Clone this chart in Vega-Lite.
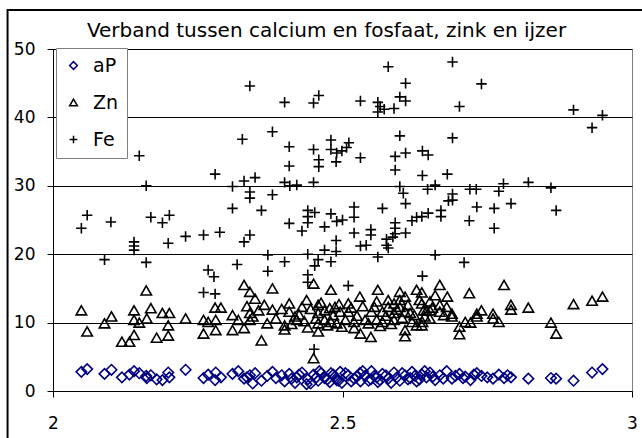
{
  "$schema": "https://vega.github.io/schema/vega-lite/v6.json",
  "width": 579,
  "height": 342,
  "autosize": {"type": "none"},
  "padding": {"left": 53, "top": 49, "right": 10, "bottom": 47},
  "background": "white",
  "config": {
    "view": {"stroke": "#808080", "strokeWidth": 1},
    "font": "DejaVu Sans"
  },
  "title": {
    "text": "Verband tussen calcium en fosfaat, zink en ijzer",
    "font": "DejaVu Sans",
    "fontSize": 20,
    "fontWeight": "normal",
    "color": "black",
    "anchor": "middle",
    "frame": "group",
    "baseline": "alphabetic",
    "dx": -16,
    "offset": -48
  },
  "datasets": {
    "punten": [
      {"ca": 2.049, "serie": "aP", "waarde": 2.8}, {"ca": 2.059, "serie": "aP", "waarde": 3.2}, {"ca": 2.089, "serie": "aP", "waarde": 2.5}, {"ca": 2.101, "serie": "aP", "waarde": 3.1},
      {"ca": 2.119, "serie": "aP", "waarde": 2.0}, {"ca": 2.132, "serie": "aP", "waarde": 2.4}, {"ca": 2.140, "serie": "aP", "waarde": 2.9}, {"ca": 2.149, "serie": "aP", "waarde": 2.6},
      {"ca": 2.161, "serie": "aP", "waarde": 2.2}, {"ca": 2.162, "serie": "aP", "waarde": 1.9}, {"ca": 2.169, "serie": "aP", "waarde": 2.3}, {"ca": 2.179, "serie": "aP", "waarde": 1.7},
      {"ca": 2.189, "serie": "aP", "waarde": 1.6}, {"ca": 2.199, "serie": "aP", "waarde": 2.7}, {"ca": 2.201, "serie": "aP", "waarde": 2.0}, {"ca": 2.229, "serie": "aP", "waarde": 3.1},
      {"ca": 2.260, "serie": "aP", "waarde": 1.9}, {"ca": 2.268, "serie": "aP", "waarde": 2.4}, {"ca": 2.280, "serie": "aP", "waarde": 1.6}, {"ca": 2.281, "serie": "aP", "waarde": 2.7},
      {"ca": 2.290, "serie": "aP", "waarde": 2.0}, {"ca": 2.310, "serie": "aP", "waarde": 2.5}, {"ca": 2.320, "serie": "aP", "waarde": 2.9}, {"ca": 2.330, "serie": "aP", "waarde": 1.8},
      {"ca": 2.335, "serie": "aP", "waarde": 2.0}, {"ca": 2.340, "serie": "aP", "waarde": 2.3}, {"ca": 2.345, "serie": "aP", "waarde": 1.1}, {"ca": 2.349, "serie": "aP", "waarde": 2.6},
      {"ca": 2.360, "serie": "aP", "waarde": 1.5}, {"ca": 2.370, "serie": "aP", "waarde": 2.2}, {"ca": 2.379, "serie": "aP", "waarde": 2.8}, {"ca": 2.385, "serie": "aP", "waarde": 1.9},
      {"ca": 2.395, "serie": "aP", "waarde": 2.3}, {"ca": 2.400, "serie": "aP", "waarde": 1.4}, {"ca": 2.408, "serie": "aP", "waarde": 2.5}, {"ca": 2.412, "serie": "aP", "waarde": 1.8},
      {"ca": 2.418, "serie": "aP", "waarde": 1.2}, {"ca": 2.421, "serie": "aP", "waarde": 2.0}, {"ca": 2.425, "serie": "aP", "waarde": 2.4}, {"ca": 2.430, "serie": "aP", "waarde": 2.7},
      {"ca": 2.438, "serie": "aP", "waarde": 1.0}, {"ca": 2.440, "serie": "aP", "waarde": 1.7}, {"ca": 2.445, "serie": "aP", "waarde": 1.1}, {"ca": 2.450, "serie": "aP", "waarde": 2.4},
      {"ca": 2.455, "serie": "aP", "waarde": 2.0}, {"ca": 2.458, "serie": "aP", "waarde": 1.5}, {"ca": 2.460, "serie": "aP", "waarde": 2.9}, {"ca": 2.463, "serie": "aP", "waarde": 2.6},
      {"ca": 2.469, "serie": "aP", "waarde": 1.9}, {"ca": 2.474, "serie": "aP", "waarde": 1.7}, {"ca": 2.478, "serie": "aP", "waarde": 1.3}, {"ca": 2.480, "serie": "aP", "waarde": 2.6},
      {"ca": 2.484, "serie": "aP", "waarde": 2.4}, {"ca": 2.487, "serie": "aP", "waarde": 2.1}, {"ca": 2.490, "serie": "aP", "waarde": 1.6}, {"ca": 2.493, "serie": "aP", "waarde": 1.5},
      {"ca": 2.496, "serie": "aP", "waarde": 2.8}, {"ca": 2.499, "serie": "aP", "waarde": 1.2}, {"ca": 2.505, "serie": "aP", "waarde": 2.6}, {"ca": 2.510, "serie": "aP", "waarde": 2.3},
      {"ca": 2.515, "serie": "aP", "waarde": 1.4}, {"ca": 2.520, "serie": "aP", "waarde": 1.8}, {"ca": 2.525, "serie": "aP", "waarde": 2.1}, {"ca": 2.530, "serie": "aP", "waarde": 2.6},
      {"ca": 2.531, "serie": "aP", "waarde": 1.4}, {"ca": 2.535, "serie": "aP", "waarde": 2.9}, {"ca": 2.539, "serie": "aP", "waarde": 2.2}, {"ca": 2.545, "serie": "aP", "waarde": 1.5},
      {"ca": 2.549, "serie": "aP", "waarde": 1.7}, {"ca": 2.550, "serie": "aP", "waarde": 2.9}, {"ca": 2.555, "serie": "aP", "waarde": 2.2}, {"ca": 2.559, "serie": "aP", "waarde": 2.0},
      {"ca": 2.561, "serie": "aP", "waarde": 1.3}, {"ca": 2.565, "serie": "aP", "waarde": 1.6}, {"ca": 2.569, "serie": "aP", "waarde": 2.5}, {"ca": 2.575, "serie": "aP", "waarde": 2.3},
      {"ca": 2.579, "serie": "aP", "waarde": 1.8}, {"ca": 2.584, "serie": "aP", "waarde": 1.2}, {"ca": 2.589, "serie": "aP", "waarde": 2.7}, {"ca": 2.594, "serie": "aP", "waarde": 2.0},
      {"ca": 2.599, "serie": "aP", "waarde": 1.5}, {"ca": 2.603, "serie": "aP", "waarde": 2.6}, {"ca": 2.608, "serie": "aP", "waarde": 2.3}, {"ca": 2.613, "serie": "aP", "waarde": 1.7},
      {"ca": 2.617, "serie": "aP", "waarde": 1.9}, {"ca": 2.620, "serie": "aP", "waarde": 2.8}, {"ca": 2.625, "serie": "aP", "waarde": 2.2}, {"ca": 2.628, "serie": "aP", "waarde": 1.4},
      {"ca": 2.633, "serie": "aP", "waarde": 1.7}, {"ca": 2.637, "serie": "aP", "waarde": 2.4}, {"ca": 2.642, "serie": "aP", "waarde": 2.9}, {"ca": 2.645, "serie": "aP", "waarde": 2.0},
      {"ca": 2.651, "serie": "aP", "waarde": 2.7}, {"ca": 2.656, "serie": "aP", "waarde": 2.1}, {"ca": 2.660, "serie": "aP", "waarde": 1.6}, {"ca": 2.668, "serie": "aP", "waarde": 2.3},
      {"ca": 2.674, "serie": "aP", "waarde": 1.8}, {"ca": 2.680, "serie": "aP", "waarde": 2.9}, {"ca": 2.689, "serie": "aP", "waarde": 1.8}, {"ca": 2.695, "serie": "aP", "waarde": 2.2},
      {"ca": 2.702, "serie": "aP", "waarde": 2.5}, {"ca": 2.708, "serie": "aP", "waarde": 1.9}, {"ca": 2.712, "serie": "aP", "waarde": 2.1}, {"ca": 2.721, "serie": "aP", "waarde": 1.6},
      {"ca": 2.727, "serie": "aP", "waarde": 2.4}, {"ca": 2.732, "serie": "aP", "waarde": 2.6}, {"ca": 2.740, "serie": "aP", "waarde": 2.2}, {"ca": 2.750, "serie": "aP", "waarde": 2.0},
      {"ca": 2.760, "serie": "aP", "waarde": 1.8}, {"ca": 2.770, "serie": "aP", "waarde": 2.4}, {"ca": 2.779, "serie": "aP", "waarde": 1.9}, {"ca": 2.785, "serie": "aP", "waarde": 2.3},
      {"ca": 2.791, "serie": "aP", "waarde": 2.0}, {"ca": 2.821, "serie": "aP", "waarde": 1.8}, {"ca": 2.860, "serie": "aP", "waarde": 1.9}, {"ca": 2.869, "serie": "aP", "waarde": 1.8},
      {"ca": 2.899, "serie": "aP", "waarde": 1.5}, {"ca": 2.931, "serie": "aP", "waarde": 2.7}, {"ca": 2.949, "serie": "aP", "waarde": 3.2},

      {"ca": 2.049, "serie": "Zn", "waarde": 11.8}, {"ca": 2.059, "serie": "Zn", "waarde": 8.7}, {"ca": 2.089, "serie": "Zn", "waarde": 9.9}, {"ca": 2.101, "serie": "Zn", "waarde": 10.9},
      {"ca": 2.119, "serie": "Zn", "waarde": 7.2}, {"ca": 2.132, "serie": "Zn", "waarde": 7.2}, {"ca": 2.140, "serie": "Zn", "waarde": 8.2}, {"ca": 2.140, "serie": "Zn", "waarde": 11.8},
      {"ca": 2.140, "serie": "Zn", "waarde": 10.4}, {"ca": 2.149, "serie": "Zn", "waarde": 10.0}, {"ca": 2.161, "serie": "Zn", "waarde": 14.7}, {"ca": 2.162, "serie": "Zn", "waarde": 10.6},
      {"ca": 2.169, "serie": "Zn", "waarde": 12.1}, {"ca": 2.179, "serie": "Zn", "waarde": 7.8}, {"ca": 2.189, "serie": "Zn", "waarde": 11.4}, {"ca": 2.199, "serie": "Zn", "waarde": 9.6},
      {"ca": 2.199, "serie": "Zn", "waarde": 8.1}, {"ca": 2.201, "serie": "Zn", "waarde": 11.4}, {"ca": 2.229, "serie": "Zn", "waarde": 10.6}, {"ca": 2.260, "serie": "Zn", "waarde": 10.4},
      {"ca": 2.260, "serie": "Zn", "waarde": 8.4}, {"ca": 2.268, "serie": "Zn", "waarde": 10.1}, {"ca": 2.280, "serie": "Zn", "waarde": 12.2}, {"ca": 2.281, "serie": "Zn", "waarde": 10.4},
      {"ca": 2.281, "serie": "Zn", "waarde": 8.9}, {"ca": 2.290, "serie": "Zn", "waarde": 12.2}, {"ca": 2.310, "serie": "Zn", "waarde": 11.1}, {"ca": 2.310, "serie": "Zn", "waarde": 8.9},
      {"ca": 2.320, "serie": "Zn", "waarde": 10.4}, {"ca": 2.330, "serie": "Zn", "waarde": 15.5}, {"ca": 2.330, "serie": "Zn", "waarde": 9.2}, {"ca": 2.340, "serie": "Zn", "waarde": 14.5},
      {"ca": 2.340, "serie": "Zn", "waarde": 11.4}, {"ca": 2.340, "serie": "Zn", "waarde": 10.4}, {"ca": 2.349, "serie": "Zn", "waarde": 13.5}, {"ca": 2.360, "serie": "Zn", "waarde": 7.4},
      {"ca": 2.370, "serie": "Zn", "waarde": 9.9}, {"ca": 2.379, "serie": "Zn", "waarde": 15.0}, {"ca": 2.379, "serie": "Zn", "waarde": 11.9}, {"ca": 2.400, "serie": "Zn", "waarde": 9.6},
      {"ca": 2.400, "serie": "Zn", "waarde": 9.0}, {"ca": 2.408, "serie": "Zn", "waarde": 12.8}, {"ca": 2.408, "serie": "Zn", "waarde": 11.6}, {"ca": 2.418, "serie": "Zn", "waarde": 10.9},
      {"ca": 2.421, "serie": "Zn", "waarde": 10.4}, {"ca": 2.430, "serie": "Zn", "waarde": 12.3}, {"ca": 2.438, "serie": "Zn", "waarde": 13.3}, {"ca": 2.440, "serie": "Zn", "waarde": 9.3},
      {"ca": 2.450, "serie": "Zn", "waarde": 15.7}, {"ca": 2.450, "serie": "Zn", "waarde": 4.8}, {"ca": 2.458, "serie": "Zn", "waarde": 12.6}, {"ca": 2.458, "serie": "Zn", "waarde": 11.4},
      {"ca": 2.458, "serie": "Zn", "waarde": 9.9}, {"ca": 2.458, "serie": "Zn", "waarde": 8.7}, {"ca": 2.469, "serie": "Zn", "waarde": 11.8}, {"ca": 2.469, "serie": "Zn", "waarde": 10.4},
      {"ca": 2.478, "serie": "Zn", "waarde": 12.1}, {"ca": 2.480, "serie": "Zn", "waarde": 14.8}, {"ca": 2.480, "serie": "Zn", "waarde": 10.1}, {"ca": 2.487, "serie": "Zn", "waarde": 12.3},
      {"ca": 2.490, "serie": "Zn", "waarde": 9.9}, {"ca": 2.496, "serie": "Zn", "waarde": 11.6}, {"ca": 2.499, "serie": "Zn", "waarde": 9.4}, {"ca": 2.510, "serie": "Zn", "waarde": 12.8},
      {"ca": 2.510, "serie": "Zn", "waarde": 11.6}, {"ca": 2.520, "serie": "Zn", "waarde": 10.1}, {"ca": 2.520, "serie": "Zn", "waarde": 9.2}, {"ca": 2.530, "serie": "Zn", "waarde": 13.8},
      {"ca": 2.531, "serie": "Zn", "waarde": 8.4}, {"ca": 2.539, "serie": "Zn", "waarde": 10.4}, {"ca": 2.549, "serie": "Zn", "waarde": 7.9}, {"ca": 2.550, "serie": "Zn", "waarde": 11.6},
      {"ca": 2.559, "serie": "Zn", "waarde": 13.1}, {"ca": 2.559, "serie": "Zn", "waarde": 10.4}, {"ca": 2.561, "serie": "Zn", "waarde": 14.8}, {"ca": 2.569, "serie": "Zn", "waarde": 11.6},
      {"ca": 2.569, "serie": "Zn", "waarde": 10.1}, {"ca": 2.579, "serie": "Zn", "waarde": 13.3}, {"ca": 2.579, "serie": "Zn", "waarde": 12.3}, {"ca": 2.589, "serie": "Zn", "waarde": 12.8},
      {"ca": 2.589, "serie": "Zn", "waarde": 11.4}, {"ca": 2.589, "serie": "Zn", "waarde": 10.4}, {"ca": 2.599, "serie": "Zn", "waarde": 14.5}, {"ca": 2.599, "serie": "Zn", "waarde": 13.3},
      {"ca": 2.599, "serie": "Zn", "waarde": 12.3}, {"ca": 2.608, "serie": "Zn", "waarde": 13.8}, {"ca": 2.608, "serie": "Zn", "waarde": 11.6}, {"ca": 2.608, "serie": "Zn", "waarde": 8.9},
      {"ca": 2.608, "serie": "Zn", "waarde": 8.0}, {"ca": 2.617, "serie": "Zn", "waarde": 11.4}, {"ca": 2.620, "serie": "Zn", "waarde": 10.1}, {"ca": 2.628, "serie": "Zn", "waarde": 14.8},
      {"ca": 2.628, "serie": "Zn", "waarde": 9.6}, {"ca": 2.637, "serie": "Zn", "waarde": 12.8}, {"ca": 2.638, "serie": "Zn", "waarde": 10.1}, {"ca": 2.645, "serie": "Zn", "waarde": 11.8},
      {"ca": 2.637, "serie": "Zn", "waarde": 14.4}, {"ca": 2.640, "serie": "Zn", "waarde": 11.8}, {"ca": 2.651, "serie": "Zn", "waarde": 13.1}, {"ca": 2.651, "serie": "Zn", "waarde": 11.8},
      {"ca": 2.651, "serie": "Zn", "waarde": 10.6}, {"ca": 2.668, "serie": "Zn", "waarde": 12.6}, {"ca": 2.668, "serie": "Zn", "waarde": 11.6}, {"ca": 2.680, "serie": "Zn", "waarde": 12.3},
      {"ca": 2.689, "serie": "Zn", "waarde": 11.3}, {"ca": 2.689, "serie": "Zn", "waarde": 10.9}, {"ca": 2.637, "serie": "Zn", "waarde": 9.6}, {"ca": 2.660, "serie": "Zn", "waarde": 14.0},
      {"ca": 2.668, "serie": "Zn", "waarde": 15.5}, {"ca": 2.681, "serie": "Zn", "waarde": 13.8}, {"ca": 2.719, "serie": "Zn", "waarde": 14.3}, {"ca": 2.702, "serie": "Zn", "waarde": 9.4},
      {"ca": 2.702, "serie": "Zn", "waarde": 8.3}, {"ca": 2.712, "serie": "Zn", "waarde": 10.1}, {"ca": 2.721, "serie": "Zn", "waarde": 10.0}, {"ca": 2.732, "serie": "Zn", "waarde": 11.3},
      {"ca": 2.732, "serie": "Zn", "waarde": 10.9}, {"ca": 2.740, "serie": "Zn", "waarde": 11.8}, {"ca": 2.760, "serie": "Zn", "waarde": 11.3}, {"ca": 2.760, "serie": "Zn", "waarde": 10.6},
      {"ca": 2.770, "serie": "Zn", "waarde": 10.1}, {"ca": 2.779, "serie": "Zn", "waarde": 15.5}, {"ca": 2.791, "serie": "Zn", "waarde": 12.6}, {"ca": 2.791, "serie": "Zn", "waarde": 11.9},
      {"ca": 2.821, "serie": "Zn", "waarde": 12.2}, {"ca": 2.860, "serie": "Zn", "waarde": 10.0}, {"ca": 2.869, "serie": "Zn", "waarde": 8.4}, {"ca": 2.899, "serie": "Zn", "waarde": 12.7},
      {"ca": 2.931, "serie": "Zn", "waarde": 13.2}, {"ca": 2.949, "serie": "Zn", "waarde": 13.8},
      {"ca": 2.335, "serie": "Zn", "waarde": 12.4}, {"ca": 2.345, "serie": "Zn", "waarde": 10.9}, {"ca": 2.355, "serie": "Zn", "waarde": 11.8}, {"ca": 2.365, "serie": "Zn", "waarde": 12.6},
      {"ca": 2.385, "serie": "Zn", "waarde": 10.6}, {"ca": 2.395, "serie": "Zn", "waarde": 12.0}, {"ca": 2.412, "serie": "Zn", "waarde": 9.8}, {"ca": 2.425, "serie": "Zn", "waarde": 11.2},
      {"ca": 2.434, "serie": "Zn", "waarde": 10.2}, {"ca": 2.445, "serie": "Zn", "waarde": 12.0}, {"ca": 2.454, "serie": "Zn", "waarde": 10.6}, {"ca": 2.463, "serie": "Zn", "waarde": 12.9},
      {"ca": 2.474, "serie": "Zn", "waarde": 9.6}, {"ca": 2.484, "serie": "Zn", "waarde": 11.1}, {"ca": 2.494, "serie": "Zn", "waarde": 12.7}, {"ca": 2.505, "serie": "Zn", "waarde": 10.4},
      {"ca": 2.515, "serie": "Zn", "waarde": 12.2}, {"ca": 2.525, "serie": "Zn", "waarde": 11.0}, {"ca": 2.535, "serie": "Zn", "waarde": 12.4}, {"ca": 2.545, "serie": "Zn", "waarde": 9.9},
      {"ca": 2.555, "serie": "Zn", "waarde": 12.3}, {"ca": 2.565, "serie": "Zn", "waarde": 9.5}, {"ca": 2.575, "serie": "Zn", "waarde": 11.0}, {"ca": 2.584, "serie": "Zn", "waarde": 9.8},
      {"ca": 2.594, "serie": "Zn", "waarde": 11.9}, {"ca": 2.603, "serie": "Zn", "waarde": 10.7}, {"ca": 2.613, "serie": "Zn", "waarde": 12.6}, {"ca": 2.624, "serie": "Zn", "waarde": 11.1},
      {"ca": 2.633, "serie": "Zn", "waarde": 13.3}, {"ca": 2.642, "serie": "Zn", "waarde": 10.9}, {"ca": 2.655, "serie": "Zn", "waarde": 12.2}, {"ca": 2.675, "serie": "Zn", "waarde": 11.1},

      {"ca": 2.049, "serie": "Fe", "waarde": 23.8}, {"ca": 2.059, "serie": "Fe", "waarde": 25.7}, {"ca": 2.089, "serie": "Fe", "waarde": 19.2}, {"ca": 2.100, "serie": "Fe", "waarde": 24.7},
      {"ca": 2.140, "serie": "Fe", "waarde": 21.8}, {"ca": 2.140, "serie": "Fe", "waarde": 21.2}, {"ca": 2.140, "serie": "Fe", "waarde": 20.6}, {"ca": 2.149, "serie": "Fe", "waarde": 34.4},
      {"ca": 2.161, "serie": "Fe", "waarde": 30.0}, {"ca": 2.161, "serie": "Fe", "waarde": 18.8}, {"ca": 2.169, "serie": "Fe", "waarde": 25.4}, {"ca": 2.189, "serie": "Fe", "waarde": 24.6},
      {"ca": 2.199, "serie": "Fe", "waarde": 21.6}, {"ca": 2.201, "serie": "Fe", "waarde": 25.7}, {"ca": 2.229, "serie": "Fe", "waarde": 22.6}, {"ca": 2.260, "serie": "Fe", "waarde": 22.8},
      {"ca": 2.260, "serie": "Fe", "waarde": 14.4}, {"ca": 2.268, "serie": "Fe", "waarde": 17.7}, {"ca": 2.278, "serie": "Fe", "waarde": 16.7}, {"ca": 2.280, "serie": "Fe", "waarde": 31.7},
      {"ca": 2.280, "serie": "Fe", "waarde": 14.2}, {"ca": 2.288, "serie": "Fe", "waarde": 23.2}, {"ca": 2.310, "serie": "Fe", "waarde": 29.9}, {"ca": 2.310, "serie": "Fe", "waarde": 26.7},
      {"ca": 2.318, "serie": "Fe", "waarde": 18.5}, {"ca": 2.327, "serie": "Fe", "waarde": 36.8}, {"ca": 2.330, "serie": "Fe", "waarde": 30.7}, {"ca": 2.330, "serie": "Fe", "waarde": 21.8},
      {"ca": 2.340, "serie": "Fe", "waarde": 44.6}, {"ca": 2.340, "serie": "Fe", "waarde": 29.1}, {"ca": 2.340, "serie": "Fe", "waarde": 28.2}, {"ca": 2.340, "serie": "Fe", "waarde": 22.8},
      {"ca": 2.349, "serie": "Fe", "waarde": 31.2}, {"ca": 2.360, "serie": "Fe", "waarde": 26.4}, {"ca": 2.371, "serie": "Fe", "waarde": 19.9}, {"ca": 2.371, "serie": "Fe", "waarde": 17.5},
      {"ca": 2.379, "serie": "Fe", "waarde": 37.9}, {"ca": 2.379, "serie": "Fe", "waarde": 28.7}, {"ca": 2.400, "serie": "Fe", "waarde": 42.2}, {"ca": 2.400, "serie": "Fe", "waarde": 30.5},
      {"ca": 2.400, "serie": "Fe", "waarde": 18.9}, {"ca": 2.408, "serie": "Fe", "waarde": 35.7}, {"ca": 2.408, "serie": "Fe", "waarde": 32.9}, {"ca": 2.408, "serie": "Fe", "waarde": 24.5},
      {"ca": 2.409, "serie": "Fe", "waarde": 30.0}, {"ca": 2.421, "serie": "Fe", "waarde": 30.1}, {"ca": 2.430, "serie": "Fe", "waarde": 23.4}, {"ca": 2.440, "serie": "Fe", "waarde": 26.4},
      {"ca": 2.440, "serie": "Fe", "waarde": 25.5}, {"ca": 2.440, "serie": "Fe", "waarde": 24.6}, {"ca": 2.440, "serie": "Fe", "waarde": 20.0}, {"ca": 2.440, "serie": "Fe", "waarde": 17.0},
      {"ca": 2.440, "serie": "Fe", "waarde": 15.9}, {"ca": 2.450, "serie": "Fe", "waarde": 42.1}, {"ca": 2.450, "serie": "Fe", "waarde": 35.3}, {"ca": 2.450, "serie": "Fe", "waarde": 30.5},
      {"ca": 2.451, "serie": "Fe", "waarde": 6.1}, {"ca": 2.452, "serie": "Fe", "waarde": 26.1}, {"ca": 2.452, "serie": "Fe", "waarde": 18.3}, {"ca": 2.458, "serie": "Fe", "waarde": 19.2},
      {"ca": 2.459, "serie": "Fe", "waarde": 43.2}, {"ca": 2.459, "serie": "Fe", "waarde": 33.8}, {"ca": 2.459, "serie": "Fe", "waarde": 32.8}, {"ca": 2.469, "serie": "Fe", "waarde": 24.0},
      {"ca": 2.469, "serie": "Fe", "waarde": 20.6}, {"ca": 2.480, "serie": "Fe", "waarde": 36.7}, {"ca": 2.480, "serie": "Fe", "waarde": 35.3}, {"ca": 2.480, "serie": "Fe", "waarde": 25.9},
      {"ca": 2.480, "serie": "Fe", "waarde": 18.9}, {"ca": 2.489, "serie": "Fe", "waarde": 33.5}, {"ca": 2.489, "serie": "Fe", "waarde": 22.0}, {"ca": 2.489, "serie": "Fe", "waarde": 20.4},
      {"ca": 2.490, "serie": "Fe", "waarde": 34.8}, {"ca": 2.490, "serie": "Fe", "waarde": 24.8}, {"ca": 2.499, "serie": "Fe", "waarde": 35.1}, {"ca": 2.500, "serie": "Fe", "waarde": 25.0},
      {"ca": 2.507, "serie": "Fe", "waarde": 35.6}, {"ca": 2.510, "serie": "Fe", "waarde": 15.4}, {"ca": 2.511, "serie": "Fe", "waarde": 36.3}, {"ca": 2.520, "serie": "Fe", "waarde": 26.9},
      {"ca": 2.520, "serie": "Fe", "waarde": 25.4}, {"ca": 2.520, "serie": "Fe", "waarde": 23.1}, {"ca": 2.531, "serie": "Fe", "waarde": 42.4}, {"ca": 2.531, "serie": "Fe", "waarde": 34.1},
      {"ca": 2.531, "serie": "Fe", "waarde": 21.2}, {"ca": 2.541, "serie": "Fe", "waarde": 21.3}, {"ca": 2.549, "serie": "Fe", "waarde": 23.6}, {"ca": 2.549, "serie": "Fe", "waarde": 22.8},
      {"ca": 2.561, "serie": "Fe", "waarde": 42.2}, {"ca": 2.561, "serie": "Fe", "waarde": 40.8}, {"ca": 2.561, "serie": "Fe", "waarde": 19.6}, {"ca": 2.565, "serie": "Fe", "waarde": 41.6},
      {"ca": 2.569, "serie": "Fe", "waarde": 26.7}, {"ca": 2.572, "serie": "Fe", "waarde": 41.2}, {"ca": 2.576, "serie": "Fe", "waarde": 22.2}, {"ca": 2.576, "serie": "Fe", "waarde": 21.3},
      {"ca": 2.579, "serie": "Fe", "waarde": 47.4}, {"ca": 2.579, "serie": "Fe", "waarde": 20.9}, {"ca": 2.587, "serie": "Fe", "waarde": 22.5}, {"ca": 2.589, "serie": "Fe", "waarde": 41.3},
      {"ca": 2.591, "serie": "Fe", "waarde": 34.3}, {"ca": 2.591, "serie": "Fe", "waarde": 32.3}, {"ca": 2.591, "serie": "Fe", "waarde": 24.6}, {"ca": 2.591, "serie": "Fe", "waarde": 23.8},
      {"ca": 2.591, "serie": "Fe", "waarde": 23.0}, {"ca": 2.599, "serie": "Fe", "waarde": 43.0}, {"ca": 2.599, "serie": "Fe", "waarde": 37.3}, {"ca": 2.599, "serie": "Fe", "waarde": 29.9},
      {"ca": 2.605, "serie": "Fe", "waarde": 28.9}, {"ca": 2.609, "serie": "Fe", "waarde": 45.0}, {"ca": 2.609, "serie": "Fe", "waarde": 42.4}, {"ca": 2.609, "serie": "Fe", "waarde": 34.8},
      {"ca": 2.609, "serie": "Fe", "waarde": 27.4}, {"ca": 2.609, "serie": "Fe", "waarde": 23.1}, {"ca": 2.620, "serie": "Fe", "waarde": 24.9}, {"ca": 2.628, "serie": "Fe", "waarde": 25.4},
      {"ca": 2.637, "serie": "Fe", "waarde": 25.5}, {"ca": 2.638, "serie": "Fe", "waarde": 35.1}, {"ca": 2.638, "serie": "Fe", "waarde": 31.5}, {"ca": 2.638, "serie": "Fe", "waarde": 16.8},
      {"ca": 2.647, "serie": "Fe", "waarde": 29.5}, {"ca": 2.648, "serie": "Fe", "waarde": 34.5}, {"ca": 2.648, "serie": "Fe", "waarde": 26.0}, {"ca": 2.660, "serie": "Fe", "waarde": 30.1},
      {"ca": 2.660, "serie": "Fe", "waarde": 19.9}, {"ca": 2.670, "serie": "Fe", "waarde": 26.4}, {"ca": 2.670, "serie": "Fe", "waarde": 25.5}, {"ca": 2.681, "serie": "Fe", "waarde": 31.7},
      {"ca": 2.683, "serie": "Fe", "waarde": 27.8}, {"ca": 2.690, "serie": "Fe", "waarde": 48.1}, {"ca": 2.690, "serie": "Fe", "waarde": 37.0}, {"ca": 2.690, "serie": "Fe", "waarde": 28.8},
      {"ca": 2.690, "serie": "Fe", "waarde": 27.9}, {"ca": 2.702, "serie": "Fe", "waarde": 41.6}, {"ca": 2.710, "serie": "Fe", "waarde": 18.8}, {"ca": 2.719, "serie": "Fe", "waarde": 24.9},
      {"ca": 2.720, "serie": "Fe", "waarde": 29.5}, {"ca": 2.731, "serie": "Fe", "waarde": 29.5}, {"ca": 2.732, "serie": "Fe", "waarde": 26.9}, {"ca": 2.740, "serie": "Fe", "waarde": 44.9},
      {"ca": 2.762, "serie": "Fe", "waarde": 26.7}, {"ca": 2.762, "serie": "Fe", "waarde": 23.8}, {"ca": 2.770, "serie": "Fe", "waarde": 29.2}, {"ca": 2.778, "serie": "Fe", "waarde": 30.3},
      {"ca": 2.791, "serie": "Fe", "waarde": 27.4}, {"ca": 2.821, "serie": "Fe", "waarde": 30.5}, {"ca": 2.860, "serie": "Fe", "waarde": 29.7}, {"ca": 2.869, "serie": "Fe", "waarde": 26.4},
      {"ca": 2.899, "serie": "Fe", "waarde": 41.1}, {"ca": 2.931, "serie": "Fe", "waarde": 38.5}, {"ca": 2.949, "serie": "Fe", "waarde": 40.3}
    ],
    "kader": [{"naam": "kader"}]
  },
  "layer": [
    {
      "data": {"name": "kader"},
      "mark": {"type": "rect", "filled": false, "fillOpacity": 0, "stroke": "black", "strokeWidth": 2, "strokeOpacity": 1, "clip": false},
      "encoding": {
        "x": {"datum": 1.9215, "type": "quantitative", "scale": {"domain": [2, 3], "nice": false, "zero": false}},
        "x2": {"datum": 3.06},
        "y": {"datum": 55.7, "type": "quantitative", "scale": {"domain": [0, 50], "nice": false}},
        "y2": {"datum": -12}
      }
    },
    {
      "data": {"name": "punten"},
      "mark": {"type": "point", "filled": false, "strokeWidth": 1.6, "size": 110, "opacity": 1},
      "encoding": {
        "x": {
          "field": "ca", "type": "quantitative",
          "scale": {"domain": [2, 3], "nice": false, "zero": false},
          "axis": {
            "values": [2, 2.5, 3], "labelExpr": "'' + datum.value", "title": null, "grid": false,
            "domainColor": "black", "tickColor": "black", "tickSize": 6, "labelFontSize": 17,
            "labelFont": "DejaVu Sans", "labelColor": "black", "labelPadding": 18, "labelFlush": false
          }
        },
        "y": {
          "field": "waarde", "type": "quantitative",
          "scale": {"domain": [0, 50], "nice": false},
          "axis": {
            "values": [0, 5, 10, 15, 20, 25, 30, 35, 40, 45, 50], "title": null, "grid": true,
            "gridColor": "black", "gridWidth": 1, "gridOpacity": 1,
            "domainColor": "black", "tickColor": "black", "tickSize": 6, "labelFontSize": 17,
            "labelFont": "DejaVu Sans", "labelColor": "black", "labelPadding": 12, "labelFlush": false
          }
        },
        "color": {
          "field": "serie", "type": "nominal",
          "scale": {"domain": ["aP", "Zn", "Fe"], "range": ["#000080", "black", "black"]},
          "legend": {
            "orient": "none", "legendX": 3, "legendY": -1, "direction": "vertical", "title": null,
            "labelFontSize": 19, "labelFont": "DejaVu Sans", "labelColor": "black",
            "symbolSize": 60, "symbolStrokeWidth": 1.5, "fillColor": "white", "strokeColor": "#808080",
            "padding": 8, "rowPadding": 17, "labelOffset": 10
          }
        },
        "shape": {
          "field": "serie", "type": "nominal",
          "scale": {"domain": ["aP", "Zn", "Fe"], "range": ["diamond", "triangle-up", "M-1,0L1,0M0,-1L0,1"]}
        }
      }
    }
  ]
}
